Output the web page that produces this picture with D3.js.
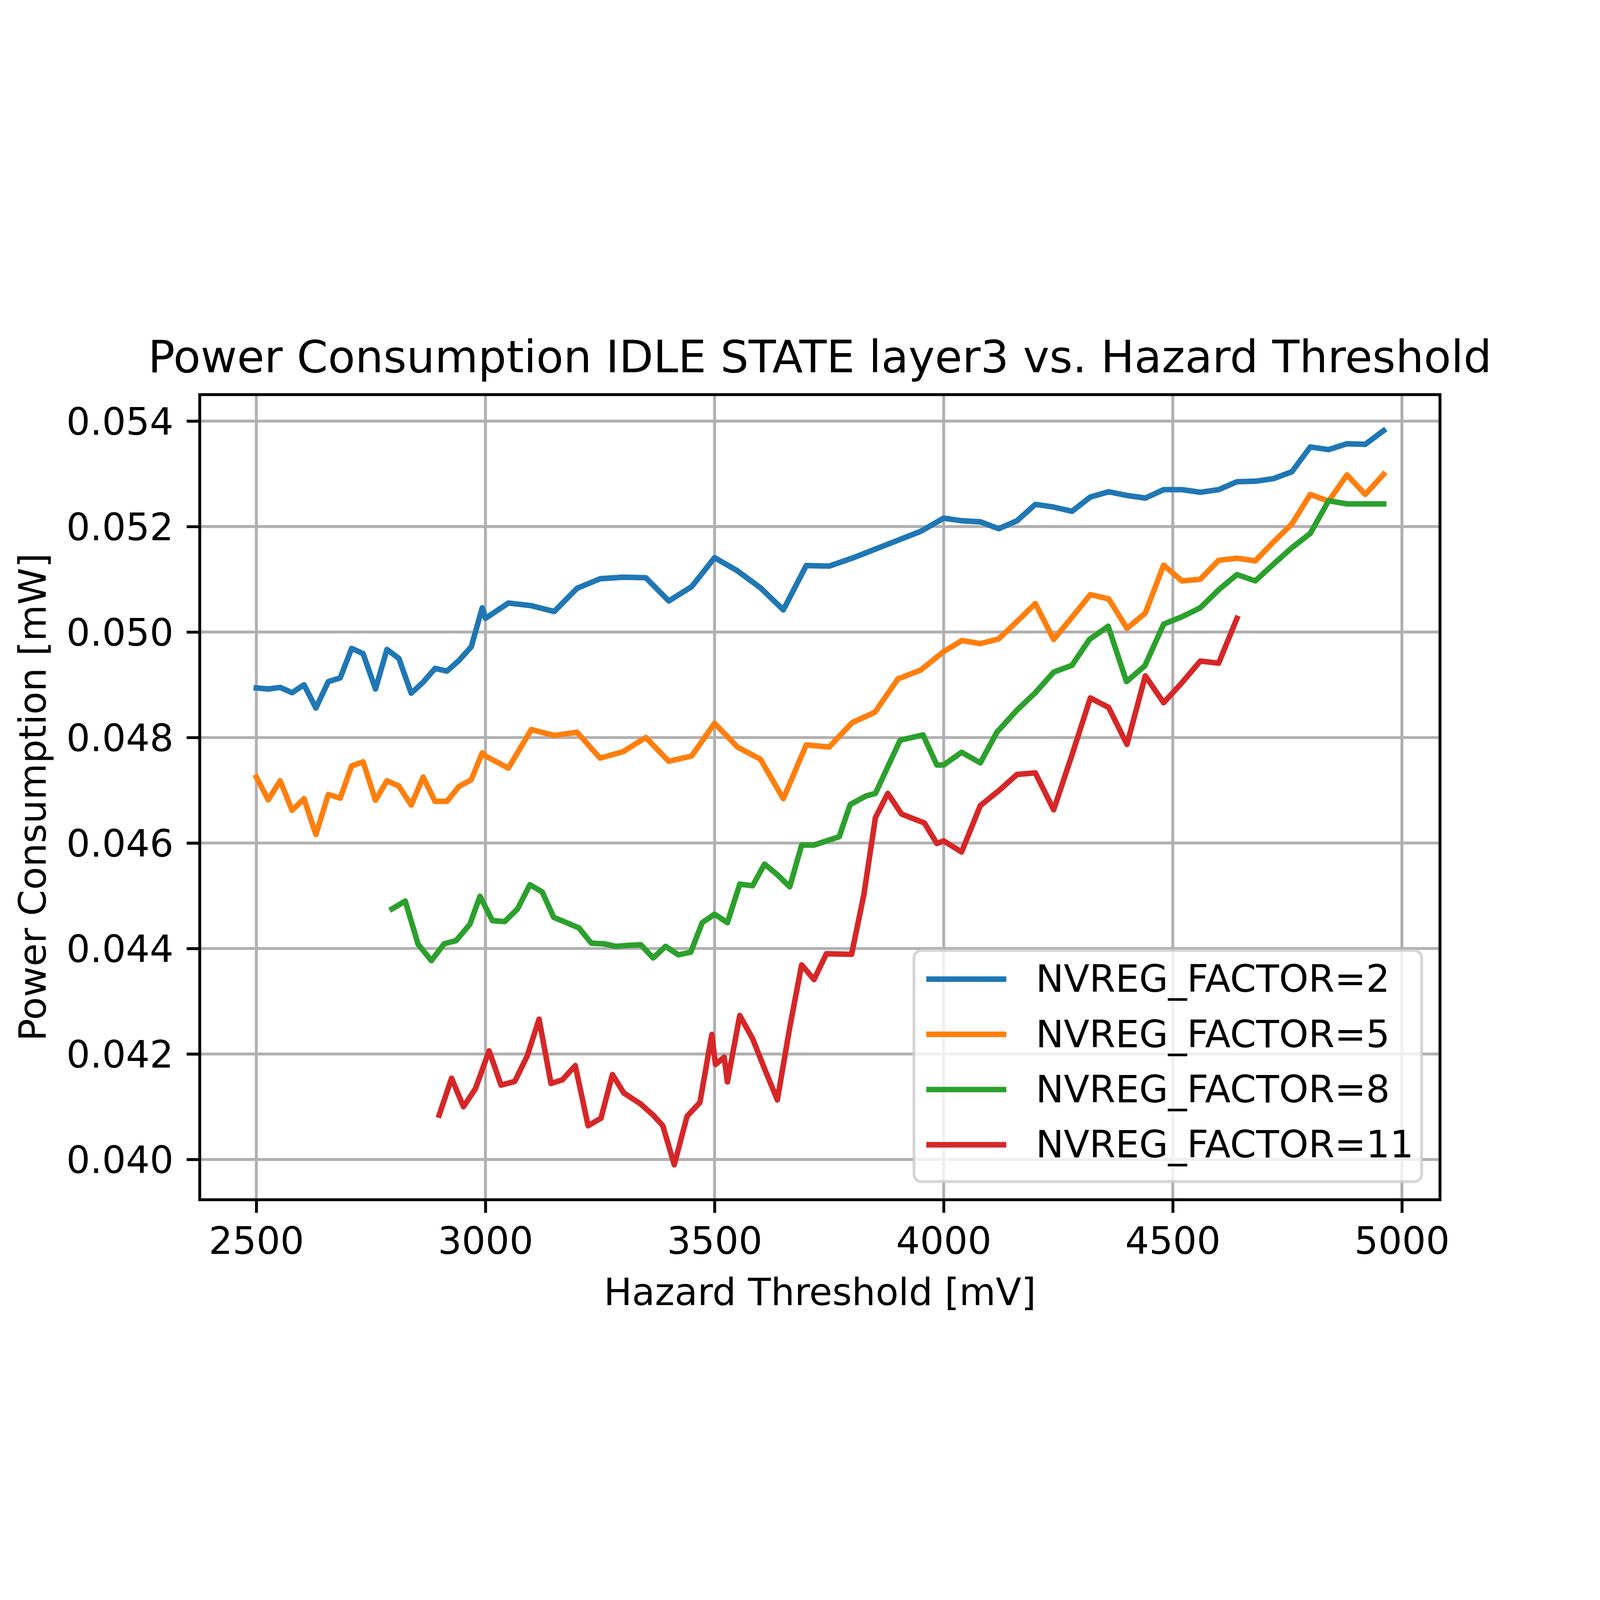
<!DOCTYPE html>
<html>
<head>
<meta charset="utf-8">
<script src="https://d3js.org/d3.v7.min.js"></script>
<style>
	html, body { margin: 0; padding: 0; width: 100%; height: 100%; overflow: hidden; background: #ffffff; }
	#chart-area { width: 100%; height: 100%; }
	text { font-family: "DejaVu Sans", sans-serif; }
</style>
</head>
<body>
<div id="chart-area"></div>
<script>

// hazard thresholds [mV] used by the NVREG_FACTOR=2 and =5 runs
let thresholdsLow = [2500, 2526, 2552, 2578, 2604, 2630, 2657, 2683, 2708, 2733,
	2760, 2785, 2811, 2838, 2864, 2890, 2916, 2942, 2969, 2993,
	3000, 3050, 3100, 3150, 3200, 3250, 3300, 3350, 3400, 3450,
	3500, 3550, 3600, 3650, 3700, 3750, 3800, 3850, 3900, 3950,
	4000, 4040, 4080, 4120, 4160, 4200, 4240, 4280, 4320, 4360,
	4400, 4440, 4480, 4520, 4560, 4600, 4640, 4680, 4720, 4760,
	4800, 4840, 4880, 4920, 4960];

let powerFactor2 = [0.04894, 0.04892, 0.04895, 0.04885, 0.04900, 0.04856, 0.04906, 0.04913, 0.04969, 0.04959,
	0.04892, 0.04967, 0.04950, 0.04884, 0.04905, 0.04931, 0.04926, 0.04946, 0.04972, 0.05046,
	0.05026, 0.05055, 0.05050, 0.05039, 0.05083, 0.05101, 0.05104, 0.05103, 0.05059, 0.05086,
	0.05141, 0.05116, 0.05084, 0.05042, 0.05126, 0.05125, 0.05140, 0.05157, 0.05174, 0.05191,
	0.05216, 0.05211, 0.05209, 0.05196, 0.05211, 0.05242, 0.05237, 0.05229, 0.05256, 0.05266,
	0.05259, 0.05254, 0.05270, 0.05270, 0.05265, 0.05270, 0.05285, 0.05286, 0.05291, 0.05304,
	0.05351, 0.05346, 0.05357, 0.05356, 0.05382];

let powerFactor5 = [0.04725, 0.04682, 0.04718, 0.04662, 0.04684, 0.04616, 0.04692, 0.04685, 0.04746, 0.04754,
	0.04681, 0.04718, 0.04708, 0.04672, 0.04725, 0.04679, 0.04679, 0.04707, 0.04720, 0.04771,
	0.04765, 0.04742, 0.04815, 0.04804, 0.04810, 0.04761, 0.04773, 0.04800, 0.04755, 0.04765,
	0.04827, 0.04782, 0.04759, 0.04684, 0.04786, 0.04782, 0.04828, 0.04848, 0.04911, 0.04928,
	0.04963, 0.04984, 0.04978, 0.04987, 0.05020, 0.05054, 0.04986, 0.05028, 0.05071, 0.05063,
	0.05007, 0.05036, 0.05127, 0.05097, 0.05100, 0.05136, 0.05140, 0.05135, 0.05171, 0.05205,
	0.05261, 0.05248, 0.05298, 0.05261, 0.05299];

let thresholdsFactor8 = [2796, 2825, 2853, 2882, 2910, 2936, 2966, 2988, 3015, 3042,
	3070, 3097, 3124, 3149, 3177, 3204, 3231, 3258, 3284, 3312,
	3339, 3366, 3393, 3421, 3448, 3473, 3500, 3528, 3555, 3583,
	3609, 3637, 3664, 3690, 3717, 3744, 3772, 3796, 3830, 3851,
	3905, 3955, 3985, 4000, 4039, 4080, 4116, 4160, 4200, 4240,
	4280, 4318, 4359, 4399, 4439, 4480, 4520, 4560, 4600, 4640,
	4680, 4720, 4760, 4800, 4840, 4880, 4920, 4960];

let powerFactor8 = [0.04475, 0.04490, 0.04408, 0.04377, 0.04409, 0.04415, 0.04446, 0.04499, 0.04453, 0.04451,
	0.04475, 0.04521, 0.04507, 0.04459, 0.04449, 0.04439, 0.04410, 0.04409, 0.04404, 0.04406,
	0.04407, 0.04382, 0.04404, 0.04388, 0.04393, 0.04449, 0.04465, 0.04449, 0.04522, 0.04519,
	0.04560, 0.04540, 0.04517, 0.04596, 0.04596, 0.04604, 0.04612, 0.04673, 0.04689, 0.04694,
	0.04795, 0.04805, 0.04748, 0.04748, 0.04772, 0.04752, 0.04810, 0.04852, 0.04885, 0.04924,
	0.04937, 0.04986, 0.05011, 0.04906, 0.04936, 0.05015, 0.05029, 0.05046, 0.05080, 0.05109,
	0.05097, 0.05129, 0.05160, 0.05187, 0.05249, 0.05243, 0.05243, 0.05243];

let thresholdsFactor11 = [2899, 2926, 2952, 2978, 3008, 3034, 3064, 3091, 3117, 3143,
	3168, 3196, 3224, 3252, 3277, 3302, 3339, 3366, 3387, 3412,
	3440, 3468, 3494, 3502, 3521, 3528, 3555, 3583, 3609, 3637,
	3664, 3690, 3717, 3744, 3799, 3826, 3851, 3878, 3908, 3958,
	3985, 4000, 4039, 4080, 4120, 4160, 4200, 4240, 4280, 4320,
	4360, 4400, 4440, 4480, 4520, 4560, 4600, 4640];

let powerFactor11 = [0.04084, 0.04154, 0.04100, 0.04134, 0.04206, 0.04141, 0.04148, 0.04196, 0.04266, 0.04144,
	0.04151, 0.04178, 0.04064, 0.04078, 0.04161, 0.04126, 0.04105, 0.04084, 0.04064, 0.03990,
	0.04082, 0.04108, 0.04237, 0.04180, 0.04194, 0.04147, 0.04273, 0.04229, 0.04172, 0.04113,
	0.04250, 0.04369, 0.04341, 0.04390, 0.04389, 0.04503, 0.04648, 0.04694, 0.04655, 0.04638,
	0.04599, 0.04604, 0.04583, 0.04671, 0.04699, 0.04730, 0.04733, 0.04663, 0.04767, 0.04875,
	0.04857, 0.04787, 0.04917, 0.04866, 0.04904, 0.04945, 0.04941, 0.05026];

let seriesLabels = ["NVREG_FACTOR=2", "NVREG_FACTOR=5", "NVREG_FACTOR=8", "NVREG_FACTOR=11"];
let xTickValues = [2500, 3000, 3500, 4000, 4500, 5000];
let yTickValues = [0.040, 0.042, 0.044, 0.046, 0.048, 0.050, 0.052, 0.054];

let lineColors = ["#1f77b4", "#ff7f0e", "#2ca02c", "#d62728"];


class PowerChart{

	constructor(parentElement){
		this.parentElement = parentElement;
		this.displayData = [];

		this.prepareData();
	}

	prepareData(){
		let vis = this;

		let xs = [thresholdsLow, thresholdsLow, thresholdsFactor8, thresholdsFactor11];
		let ys = [powerFactor2, powerFactor5, powerFactor8, powerFactor11];

		for(let i=0; i < seriesLabels.length; i++){
			vis.displayData.push({
				label: seriesLabels[i],
				color: lineColors[i],
				values: xs[i].map((d, j) => ({x: d, y: ys[i][j]}))
			});
		}

		vis.initVis();
	}

	initVis(){
		let vis = this;

		// drawing units = pixels of the 6360x4240 reference
		vis.fullWidth = 6360;
		vis.fullHeight = 4240;
		vis.margin = {top: 508.6, right: 636, bottom: 531, left: 794};

		vis.width = vis.fullWidth - vis.margin.left - vis.margin.right;
		vis.height = vis.fullHeight - vis.margin.top - vis.margin.bottom;

		vis.root = d3.select("#" + vis.parentElement).append("svg")
			.attr("viewBox", "0 0 " + vis.fullWidth + " " + vis.fullHeight)
			.attr("preserveAspectRatio", "xMidYMid meet")
			.attr("width", "100%")
			.attr("height", "100%")
			.style("display", "block");

		vis.root.append("rect")
			.attr("width", vis.fullWidth)
			.attr("height", vis.fullHeight)
			.attr("fill", "#ffffff");

		vis.svg = vis.root.append("g")
			.attr("transform", "translate(" + vis.margin.left + "," + vis.margin.top + ")");

		// Scales (limits as matplotlib padded them)
		vis.x = d3.scaleLinear()
			.domain([2376.5, 5083.1])
			.range([0, vis.width]);

		vis.y = d3.scaleLinear()
			.domain([0.039236, 0.054502])
			.range([vis.height, 0]);

		vis.fontSize = 149;
		vis.lw = 11.5;

		// Grid
		vis.svg.append("g").attr("class", "grid-x")
			.selectAll("line").data(xTickValues).enter().append("line")
			.attr("x1", d => vis.x(d)).attr("x2", d => vis.x(d))
			.attr("y1", 0).attr("y2", vis.height)
			.attr("stroke", "#b0b0b0").attr("stroke-width", vis.lw);

		vis.svg.append("g").attr("class", "grid-y")
			.selectAll("line").data(yTickValues).enter().append("line")
			.attr("x1", 0).attr("x2", vis.width)
			.attr("y1", d => vis.y(d)).attr("y2", d => vis.y(d))
			.attr("stroke", "#b0b0b0").attr("stroke-width", vis.lw);

		// Lines
		vis.line = d3.line()
			.x(d => vis.x(d.x))
			.y(d => vis.y(d.y));

		vis.svg.append("g").attr("class", "series")
			.selectAll("path").data(vis.displayData).enter().append("path")
			.attr("d", d => vis.line(d.values))
			.attr("fill", "none")
			.attr("stroke", d => d.color)
			.attr("stroke-width", 22)
			.attr("stroke-linejoin", "round")
			.attr("stroke-linecap", "square");

		// Axes
		vis.xAxis = d3.axisBottom(vis.x)
			.tickValues(xTickValues)
			.tickFormat(d3.format("d"))
			.tickSize(52)
			.tickSizeOuter(0)
			.tickPadding(58);

		vis.yAxis = d3.axisLeft(vis.y)
			.tickValues(yTickValues)
			.tickFormat(d3.format(".3f"))
			.tickSize(52)
			.tickSizeOuter(0)
			.tickPadding(52);

		let gx = vis.svg.append("g")
			.attr("class", "x-axis")
			.attr("transform", "translate(0," + vis.height + ")")
			.call(vis.xAxis);

		let gy = vis.svg.append("g")
			.attr("class", "y-axis")
			.call(vis.yAxis);

		[gx, gy].forEach(g => {
			g.select(".domain").remove();
			g.attr("font-size", vis.fontSize).attr("font-family", "DejaVu Sans");
			g.selectAll(".tick line").attr("stroke", "#000").attr("stroke-width", vis.lw);
			g.selectAll(".tick text").attr("fill", "#000");
		});
		gy.selectAll(".tick text").attr("dy", "0.363em");

		// Spines
		vis.svg.append("rect")
			.attr("width", vis.width)
			.attr("height", vis.height)
			.attr("fill", "none")
			.attr("stroke", "#000")
			.attr("stroke-width", vis.lw)
			.attr("stroke-linejoin", "miter");

		// Labels
		vis.svg.append("text")
			.attr("x", vis.width / 2)
			.attr("y", 420 - vis.margin.top)
			.attr("text-anchor", "middle")
			.attr("font-size", 177)
			.text("Power Consumption IDLE STATE layer3 vs. Hazard Threshold");

		vis.svg.append("text")
			.attr("x", vis.width / 2)
			.attr("y", 4127 - vis.margin.top)
			.attr("text-anchor", "middle")
			.attr("font-size", vis.fontSize)
			.text("Hazard Threshold [mV]");

		vis.svg.append("text")
			.attr("transform", "translate(" + (181 - vis.margin.left) + "," + (vis.height / 2) + ") rotate(-90)")
			.attr("text-anchor", "middle")
			.attr("font-size", vis.fontSize)
			.text("Power Consumption [mW]");

		vis.drawLegend();
	}

	drawLegend(){
		let vis = this;

		let legend = vis.svg.append("g")
			.attr("class", "legend")
			.attr("transform", "translate(" + (3633 - vis.margin.left) + "," + (2718 - vis.margin.top) + ")");

		legend.append("rect")
			.attr("width", 2018)
			.attr("height", 919)
			.attr("rx", 30)
			.attr("fill", "#ffffff")
			.attr("fill-opacity", 0.8)
			.attr("stroke", "#cccccc")
			.attr("stroke-opacity", 0.8)
			.attr("stroke-width", vis.lw);

		let rows = legend.selectAll(".legend-row")
			.data(vis.displayData)
			.enter().append("g")
			.attr("class", "legend-row")
			.attr("transform", (d, i) => "translate(0," + (114 + i * 219.5) + ")");

		rows.append("line")
			.attr("x1", 49).attr("x2", 367)
			.attr("y1", 0).attr("y2", 0)
			.attr("stroke", d => d.color)
			.attr("stroke-width", 22)
			.attr("stroke-linecap", "butt");

		rows.append("text")
			.attr("x", 484)
			.attr("y", 51)
			.attr("font-size", vis.fontSize)
			.text(d => d.label);
	}

}

new PowerChart("chart-area");

</script>
</body>
</html>
